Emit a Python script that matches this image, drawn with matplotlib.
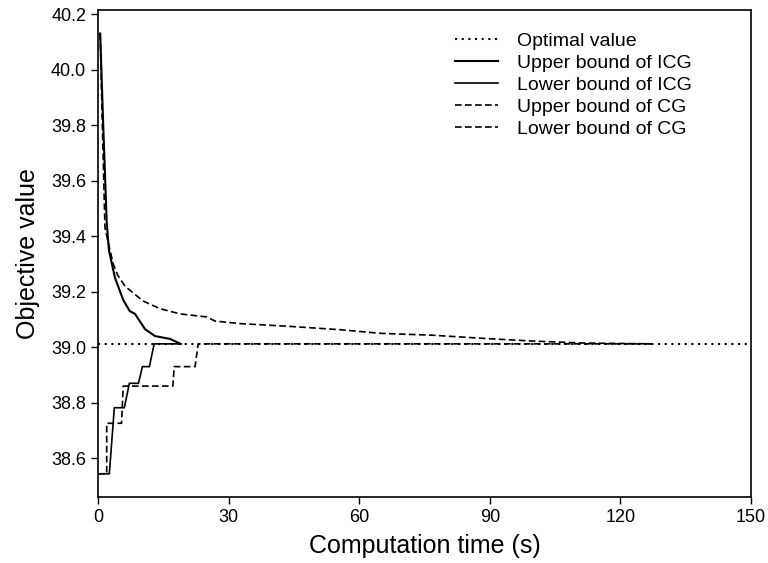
import matplotlib
matplotlib.use("Agg")
import matplotlib.pyplot as plt

plt.rcParams['font.family'] = ['Liberation Sans', 'DejaVu Sans']

optimal = 39.012

# upper bound of ICG
ub_icg_t = [0.5, 1.2, 2.0, 2.5, 3.9, 5.8, 7.3, 8.5, 10.8, 13.1, 16.5, 19.0]
ub_icg_v = [40.13, 39.80, 39.45, 39.35, 39.25, 39.17, 39.13, 39.12, 39.065, 39.04, 39.03, 39.012]

# lower bound of ICG (steps)
lb_icg_t = [0, 2.6, 3.75, 6.05, 7.2, 9.3, 10.2, 11.8, 12.9, 19.0]
lb_icg_v = [38.544, 38.544, 38.782, 38.782, 38.87, 38.87, 38.93, 38.93, 39.012, 39.012]

# upper bound of CG
ub_cg_t = [0.5, 1.0, 1.6, 2.3, 3.5, 4.5, 6.2, 8.5, 10.4, 14.2, 18.8, 25.0, 26.9,
           32.6, 44.0, 55.6, 64.8, 77.0, 89.3, 100.0, 111.4, 127.5]
ub_cg_v = [40.13, 39.80, 39.43, 39.38, 39.30, 39.26, 39.22, 39.19, 39.166, 39.139,
           39.12, 39.109, 39.094, 39.085, 39.075, 39.063, 39.05, 39.043, 39.031,
           39.022, 39.015, 39.012]

# lower bound of CG (steps)
lb_cg_t = [0, 2.0, 2.0, 5.4, 5.8, 17.2, 17.5, 22.3, 23.0, 127.5]
lb_cg_v = [38.544, 38.544, 38.726, 38.726, 38.86, 38.86, 38.93, 38.93, 39.012, 39.012]

fig = plt.figure(figsize=(7.68, 5.63), dpi=100)
ax = fig.add_axes([0.1276, 0.117, 0.8504, 0.865])

ax.plot([0, 150], [optimal, optimal], color='black', linestyle=(0, (1, 2.2)), lw=1.5,
        label='Optimal value')
ax.plot(ub_icg_t, ub_icg_v, color='black', lw=1.5, label='Upper bound of ICG')
ax.plot(lb_icg_t, lb_icg_v, color='black', lw=1.2, label='Lower bound of ICG')
ax.plot(ub_cg_t, ub_cg_v, color='black', lw=1.2, linestyle=(0, (4, 2)),
        label='Upper bound of CG')
ax.plot(lb_cg_t, lb_cg_v, color='black', lw=1.2, linestyle=(0, (4, 2)),
        label='Lower bound of CG')

ax.set_xlim(0, 150)
ax.set_ylim(38.46, 40.214)
ax.set_xticks([0, 30, 60, 90, 120, 150])
ax.set_yticks([38.6, 38.8, 39.0, 39.2, 39.4, 39.6, 39.8, 40.0, 40.2])
ax.set_yticklabels(['%.1f' % v for v in ax.get_yticks()])
ax.tick_params(direction='out', labelsize=13, length=5, width=1)
for s in ax.spines.values():
    s.set_linewidth(1.2)

ax.set_xlabel('Computation time (s)', fontsize=18, labelpad=6)
ax.set_ylabel('Objective value', fontsize=18, labelpad=8)

ax.legend(loc='upper left', frameon=False, fontsize=14, handlelength=2.2,
          labelspacing=0.22, handletextpad=1.0, bbox_to_anchor=(0.52, 0.99))

fig.savefig('out.png', dpi=100)
